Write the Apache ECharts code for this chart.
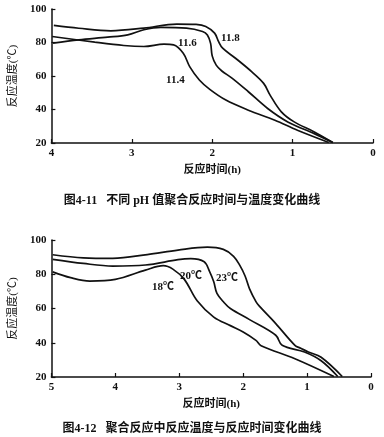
<!DOCTYPE html>
<html><head><meta charset="utf-8">
<script src="https://cdn.jsdelivr.net/npm/echarts@6/dist/echarts.min.js"></script>
<style>html,body{margin:0;padding:0;background:#fff}#c{width:384px;height:437px}</style>
</head><body><div id="c"></div>
<script>
// Chart 1 (图4-11): reaction time (h) vs temperature (°C) for different pH
const ph118_t = [3.97, 3.66, 3.26, 2.85, 2.44, 2.2, 2.08, 1.97, 1.92, 1.87, 1.71, 1.51, 1.36, 1.28, 1.14, 0.98, 0.73, 0.5];
const ph118_v = [90.2, 88.5, 87.0, 88.6, 91.0, 90.8, 89.6, 85.6, 80.5, 76.6, 70.6, 62.6, 55.6, 48.6, 38.6, 32.6, 26.6, 20.3];
const ph116_t = [3.98, 3.66, 3.3, 3.05, 2.85, 2.64, 2.32, 2.12, 2.06, 2.02, 2.0, 1.95, 1.88, 1.75, 1.55, 1.31, 1.06, 0.73, 0.5];
const ph116_v = [79.6, 81.6, 83.2, 84.6, 87.6, 89.0, 88.6, 86.6, 84.5, 79.5, 72.0, 66.5, 63.0, 58.6, 50.6, 40.6, 32.6, 25.6, 20.3];
const ph114_t = [3.99, 3.46, 3.1, 2.85, 2.6, 2.48, 2.36, 2.28, 2.16, 2.03, 1.83, 1.55, 1.22, 0.94, 0.55];
const ph114_v = [83.6, 80.2, 78.2, 77.6, 79.0, 78.6, 73.6, 65.6, 57.6, 52.0, 45.6, 39.6, 33.6, 27.6, 20.3];
const ph_names = ['11.8', '11.6', '11.4'];

// Chart 2 (图4-12): reaction time (h) vs temperature (°C) for different start temperatures
const t23_t = [4.98, 4.5, 4.04, 3.5, 3.02, 2.56, 2.31, 2.15, 2.05, 1.97, 1.9, 1.8, 1.75, 1.49, 1.19, 1.1, 0.98, 0.78, 0.45];
const t23_v = [91.4, 89.6, 89.3, 91.5, 94.1, 95.8, 94.5, 90.5, 85.0, 79.0, 71.5, 64.0, 61.5, 51.2, 38.5, 36.8, 34.6, 31.5, 20.3];
const t20_t = [4.98, 4.5, 4.04, 3.53, 3.02, 2.82, 2.61, 2.53, 2.46, 2.41, 2.3, 2.2, 1.9, 1.49, 1.39, 1.04, 0.78, 0.52];
const t20_v = [88.7, 86.3, 84.8, 85.4, 88.5, 89.1, 87.3, 82.0, 75.6, 68.8, 63.5, 60.0, 53.5, 44.4, 38.5, 34.6, 29.5, 20.3];
const t18_t = [4.98, 4.7, 4.4, 4.0, 3.53, 3.25, 3.1, 2.92, 2.72, 2.46, 2.2, 2.0, 1.8, 1.72, 1.19, 0.58];
const t18_v = [81.4, 78.0, 76.0, 77.0, 82.4, 85.0, 83.0, 77.0, 64.5, 55.0, 50.0, 46.3, 41.4, 38.3, 30.7, 20.3];
const t_names = ['23℃', '20℃', '18℃'];

const yTicks = [20, 40, 60, 80, 100];
const x1Max = 4, x2Max = 5;
const axisNameX = '反应时间(h)';
const axisNameY = '反应温度(℃)';
const caption1 = '图4-11   不同 pH 值聚合反应时间与温度变化曲线';
const caption2 = '图4-12   聚合反应中反应温度与反应时间变化曲线';

const zip = (a, b) => a.map((x, i) => [x, b[i]]);
const FONT = '"Liberation Serif","Noto Sans CJK SC",serif';
const chart = echarts.init(document.getElementById('c'), null, {renderer: 'canvas'});

function xAxis(gi, max) {
  return {
    gridIndex: gi, type: 'value', inverse: true, min: 0, max: max, interval: 1,
    name: axisNameX, nameLocation: 'middle', nameGap: 22,
    nameTextStyle: {color: '#111', fontSize: 11, fontFamily: FONT, fontWeight: 'bold'},
    axisLine: {show: true, onZero: false, lineStyle: {color: '#111', width: 1.5}},
    axisTick: {show: true, inside: true, length: 4, lineStyle: {color: '#111', width: 1.2}},
    axisLabel: {color: '#111', fontSize: 11, fontFamily: FONT, fontWeight: 'bold', margin: 5},
    splitLine: {show: false}
  };
}
function yAxis(gi) {
  return {
    gridIndex: gi, type: 'value', min: yTicks[0], max: yTicks[yTicks.length - 1], interval: 20,
    name: axisNameY, nameLocation: 'middle', nameGap: 29, nameRotate: 90,
    nameTextStyle: {color: '#111', fontSize: 11, fontFamily: FONT},
    axisLine: {show: true, onZero: false, lineStyle: {color: '#111', width: 1.5}},
    axisTick: {show: true, inside: true, length: 4, lineStyle: {color: '#111', width: 1.2}},
    axisLabel: {color: '#111', fontSize: 11, fontFamily: FONT, fontWeight: 'bold', margin: 5},
    splitLine: {show: false}
  };
}
function line(gi, name, t, v) {
  return {
    type: 'line', name: name, xAxisIndex: gi, yAxisIndex: gi, data: zip(t, v),
    smooth: 0.35, showSymbol: false, symbol: 'none',
    lineStyle: {color: '#111', width: 1.7}, z: 3
  };
}
function txt(x, y, s, size, bold) {
  return {type: 'text', left: x, top: y, style: {text: s, fill: '#111', font: (bold ? 'bold ' : '') + size + 'px ' + FONT}};
}

chart.setOption({
  animation: false,
  backgroundColor: '#fff',
  grid: [
    {left: 46, top: 9, width: 327, height: 134},
    {left: 44, top: 240, width: 327, height: 137}
  ],
  xAxis: [xAxis(0, x1Max), xAxis(1, x2Max)],
  yAxis: [yAxis(0), yAxis(1)],
  series: [
    line(0, ph_names[0], ph118_t, ph118_v),
    line(0, ph_names[1], ph116_t, ph116_v),
    line(0, ph_names[2], ph114_t, ph114_v),
    line(1, t_names[0], t23_t, t23_v),
    line(1, t_names[1], t20_t, t20_v),
    line(1, t_names[2], t18_t, t18_v)
  ],
  graphic: [
    txt(221, 33, ph_names[0], 11, true),
    txt(178, 38, ph_names[1], 11, true),
    txt(166, 75, ph_names[2], 11, true),
    txt(216, 273, t_names[0], 11, true),
    txt(180, 271, t_names[1], 11, true),
    txt(152, 282, t_names[2], 11, true),
    {type: 'text', left: 'center', top: 195, style: {text: caption1, fill: '#111', font: 'bold 12px ' + FONT}},
    {type: 'text', left: 'center', top: 423, style: {text: caption2, fill: '#111', font: 'bold 12px ' + FONT}}
  ]
});
</script></body></html>
